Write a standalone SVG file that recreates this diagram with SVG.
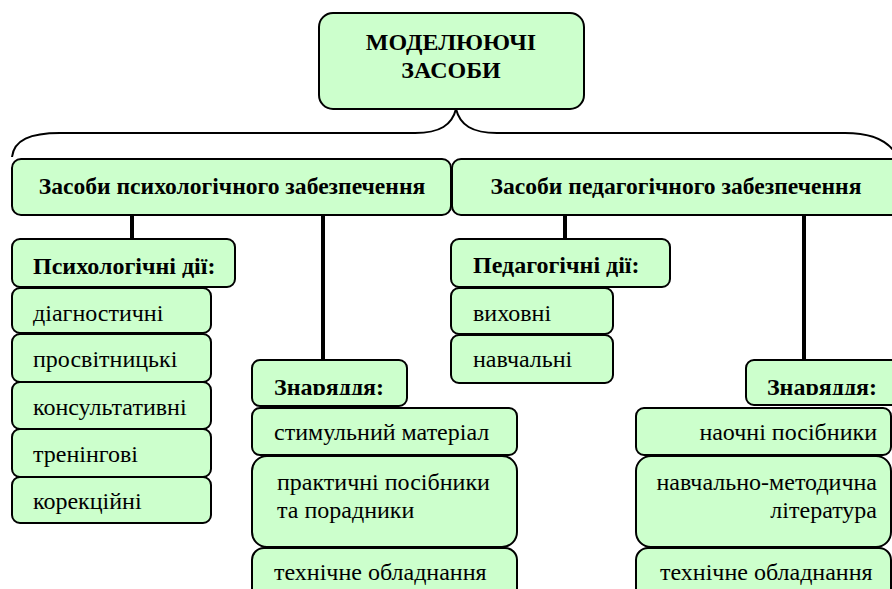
<svg xmlns="http://www.w3.org/2000/svg" width="892" height="589" viewBox="0 0 892 589">
<style>
.box{fill:#CCFFCC;stroke:#000;stroke-width:2}
.con{stroke:#000;stroke-width:4;fill:none}
.brace{stroke:#000;stroke-width:2;fill:none}
text{font-family:"Liberation Serif","Times New Roman",serif;font-size:24px;fill:#000}
.b{font-weight:bold}
.h2{font-size:23.6px}
</style>
<defs>
<clipPath id="clipZ1"><rect x="252" y="359" width="160" height="36"/></clipPath>
<clipPath id="clipZ2"><rect x="746" y="359" width="160" height="36"/></clipPath>
</defs>
<rect width="892" height="589" fill="#fff"/>
<g id="connectors">
<path class="brace" d="M12,157 C14,140 30,133 60,133 L415,133 C440,133 452,125 456,109 C460,125 472,133 497,133 L845,133 C870,133 885,140 893,150"/>
<line class="con" x1="132" y1="215" x2="132" y2="240"/>
<line class="con" x1="323" y1="215" x2="323" y2="360"/>
<line class="con" x1="565" y1="215" x2="565" y2="240"/>
<line class="con" x1="804" y1="215" x2="804" y2="360"/>
</g>
<g id="root">
<rect class="box" x="319" y="13" width="265" height="96" rx="14"/>
<text class="b" x="451" y="50" text-anchor="middle">МОДЕЛЮЮЧІ</text>
<text class="b" x="451" y="78" text-anchor="middle">ЗАСОБИ</text>
</g>
<g id="psych">
<rect class="box" x="12" y="159" width="439" height="56" rx="9"/>
<text class="b h2" x="232" y="194" text-anchor="middle">Засоби психологічного забезпечення</text>
</g>
<g id="ped">
<rect class="box" x="452" y="159" width="450" height="56" rx="9"/>
<text class="b h2" x="676" y="194" text-anchor="middle">Засоби педагогічного забезпечення</text>
</g>
<g id="psych-actions">
<rect class="box" x="12" y="239" width="223" height="48" rx="8"/>
<text class="b" x="33" y="274">Психологічні дії:</text>
</g>
<g id="diag">
<rect class="box" x="12" y="288" width="199" height="45" rx="8"/>
<text x="33" y="321">діагностичні</text>
</g>
<g id="prosv">
<rect class="box" x="12" y="334" width="199" height="48" rx="8"/>
<text x="33" y="367">просвітницькі</text>
</g>
<g id="kons">
<rect class="box" x="12" y="382" width="199" height="47" rx="8"/>
<text x="33" y="415">консультативні</text>
</g>
<g id="tren">
<rect class="box" x="12" y="429" width="199" height="48" rx="8"/>
<text x="33" y="462">тренінгові</text>
</g>
<g id="korek">
<rect class="box" x="12" y="477" width="199" height="46" rx="8"/>
<text x="33" y="509">корекційні</text>
</g>
<g id="tools-left">
<rect class="box" x="252" y="360" width="155" height="46" rx="8"/>
<text class="b" x="274" y="395" clip-path="url(#clipZ1)">Знаряддя:</text>
</g>
<g id="stim">
<rect class="box" x="252" y="408" width="265" height="47" rx="8"/>
<text x="274" y="440">стимульний матеріал</text>
</g>
<g id="prakt">
<rect class="box" x="252" y="456" width="265" height="91" rx="15"/>
<text x="277" y="490">практичні посібники</text>
<text x="277" y="518">та порадники</text>
</g>
<g id="tech-left">
<rect class="box" x="252" y="548" width="265" height="60" rx="12"/>
<text x="274" y="580">технічне обладнання</text>
</g>
<g id="ped-actions">
<rect class="box" x="451" y="239" width="219" height="48" rx="8"/>
<text class="b" x="473" y="273">Педагогічні дії:</text>
</g>
<g id="vykh">
<rect class="box" x="451" y="288" width="162" height="46" rx="8"/>
<text x="473" y="321">виховні</text>
</g>
<g id="navch">
<rect class="box" x="451" y="335" width="162" height="48" rx="8"/>
<text x="473" y="367">навчальні</text>
</g>
<g id="tools-right">
<rect class="box" x="746" y="360" width="160" height="45" rx="8"/>
<text class="b" x="877" y="395" text-anchor="end" clip-path="url(#clipZ2)">Знаряддя:</text>
</g>
<g id="naochni">
<rect class="box" x="636" y="408" width="255" height="47" rx="8"/>
<text x="877" y="440" text-anchor="end">наочні посібники</text>
</g>
<g id="metod">
<rect class="box" x="636" y="456" width="255" height="91" rx="15"/>
<text x="877" y="490" text-anchor="end">навчально-методична</text>
<text x="877" y="518" text-anchor="end">література</text>
</g>
<g id="tech-right">
<rect class="box" x="636" y="548" width="255" height="60" rx="12"/>
<text x="660" y="580">технічне обладнання</text>
</g>
</svg>
